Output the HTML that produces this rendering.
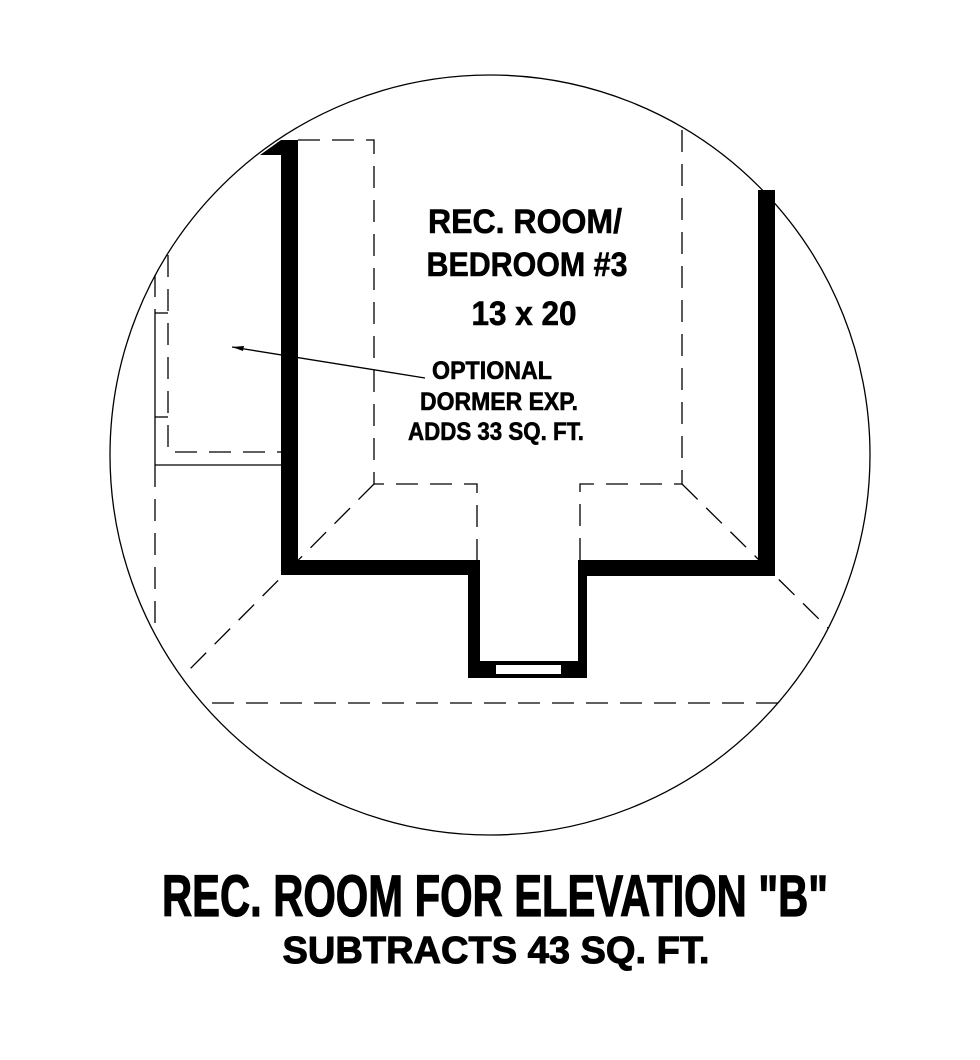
<!DOCTYPE html>
<html><head><meta charset="utf-8"><style>
html,body{margin:0;padding:0;background:#fff;}
svg{display:block;}
text{font-family:"Liberation Sans",sans-serif;font-weight:bold;fill:#000;}
</style></head><body>
<svg width="980" height="1060" viewBox="0 0 980 1060" xmlns="http://www.w3.org/2000/svg">
<circle cx="490" cy="455" r="380" fill="none" stroke="#000" stroke-width="1.3"/>
<g fill="none" stroke="#000" stroke-width="1.3" stroke-dasharray="22,12">
<polyline points="298,140 374,140 374,484 477,484 477,560"/>
<polyline points="580,560 580,484 682,484 682,128"/>
<line x1="374" y1="484" x2="183" y2="676"/>
<line x1="682" y1="484" x2="828" y2="628"/>
<line x1="212" y1="703" x2="778" y2="703"/>
<line x1="155" y1="465" x2="155" y2="635"/>
<polyline points="168,255 168,452 281,452"/>
<line x1="155" y1="275" x2="155" y2="313"/>
</g>
<g fill="none" stroke="#000" stroke-width="1.3">
<line x1="155" y1="313" x2="155" y2="465"/>
<line x1="155" y1="465" x2="281" y2="465"/>
<line x1="155" y1="313" x2="168" y2="313"/>
<line x1="155" y1="417" x2="168" y2="417"/>
<line x1="425" y1="378" x2="232" y2="347"/>
</g>
<polygon points="232,347 244,346 243,351" fill="#000"/>
<g fill="#000">
<rect x="281" y="140" width="17" height="435"/>
<polygon points="260,155 281,140 281,155"/>
<rect x="281" y="560" width="199" height="15"/>
<rect x="468" y="560" width="12" height="118"/>
<rect x="468" y="661" width="119" height="17"/>
<rect x="578" y="560" width="9" height="118"/>
<rect x="578" y="560" width="197" height="16"/>
<rect x="758" y="190" width="17" height="386"/>
</g>
<rect x="496" y="665" width="65" height="9" fill="#fff"/>
<g stroke="#000" stroke-width="0.6">
<text x="525" y="233" font-size="34" text-anchor="middle" textLength="194" lengthAdjust="spacingAndGlyphs">REC. ROOM/</text>
<text x="527" y="276" font-size="34" text-anchor="middle" textLength="201" lengthAdjust="spacingAndGlyphs">BEDROOM #3</text>
<text x="524" y="325" font-size="34" text-anchor="middle" textLength="105" lengthAdjust="spacingAndGlyphs">13 x 20</text>
<text x="492" y="379" font-size="25" text-anchor="middle" textLength="120" lengthAdjust="spacingAndGlyphs">OPTIONAL</text>
<text x="499" y="410" font-size="25" text-anchor="middle" textLength="158" lengthAdjust="spacingAndGlyphs">DORMER EXP.</text>
<text x="496" y="440" font-size="25" text-anchor="middle" textLength="176" lengthAdjust="spacingAndGlyphs">ADDS 33 SQ. FT.</text>
<text x="495" y="916" font-size="58" text-anchor="middle" textLength="666" lengthAdjust="spacingAndGlyphs" stroke-width="1.2">REC. ROOM FOR ELEVATION "B"</text>
<text x="496" y="963" font-size="38" text-anchor="middle" textLength="427" lengthAdjust="spacingAndGlyphs" stroke-width="1">SUBTRACTS 43 SQ. FT.</text>
</g>
</svg>
</body></html>
